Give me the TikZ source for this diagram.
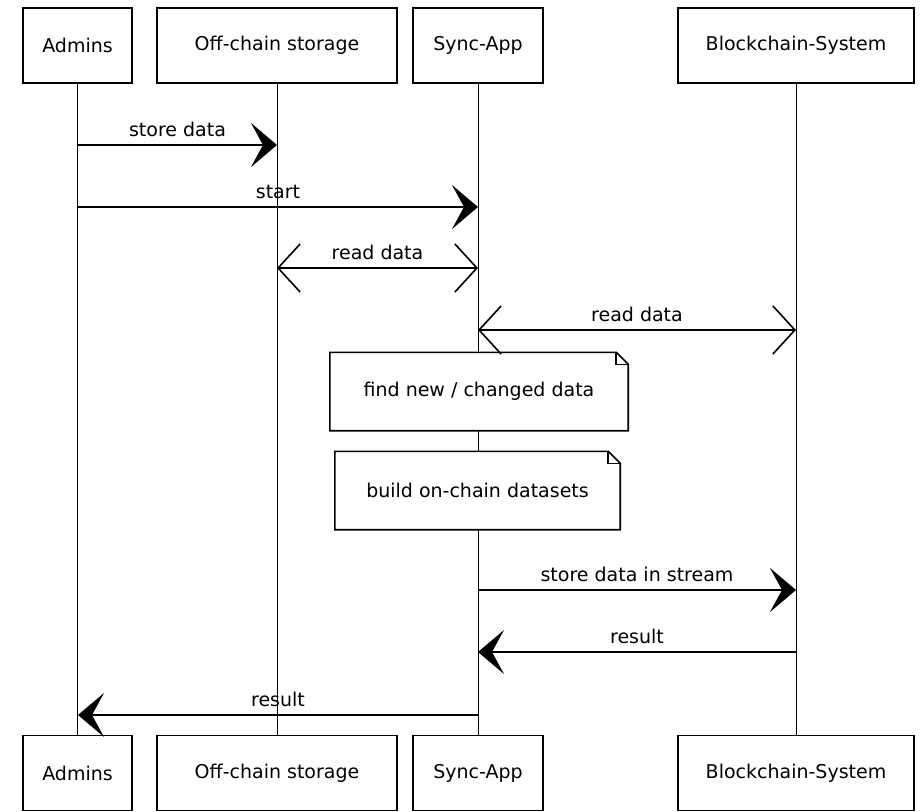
\documentclass[tikz,border=0pt]{standalone}
\usepackage{fontspec}
\setmainfont{DejaVu Sans}
\usetikzlibrary{arrows.meta}
\newcommand{\lblfont}{\fontsize{19}{22}\selectfont}
\tikzstyle{none}=[inner sep=0pt]
\tikzstyle{actor}=[rectangle,draw=black,fill=white,line width=1.6,minimum height=75,font=\lblfont]
\tikzstyle{lifeline}=[-,line width=1.0]
\tikzstyle{msg}=[-{Stealth[length=26pt,width=44pt,inset=12pt]},line width=1.6]
\tikzstyle{readmsg}=[{Straight Barb[length=22pt,width=48pt]}-{Straight Barb[length=22pt,width=48pt]},line width=1.6]
\tikzstyle{lbl}=[above,inner sep=7,font=\lblfont]
\tikzstyle{note}=[rectangle,fill=white,minimum height=78,font=\lblfont]
\tikzstyle{outline}=[-,line width=1.6]
\pgfdeclarelayer{edgelayer}
\pgfdeclarelayer{nodelayer}
\pgfsetlayers{edgelayer,nodelayer,main}
\begin{document}
\begin{tikzpicture}[x=1pt,y=-1pt]
	\useasboundingbox (0,0) rectangle (920,811);
	\begin{pgfonlayer}{nodelayer}
		\node [style=actor, minimum width=109] (adminsT) at (77.5, 45.5) {Admins};
		\node [style=actor, minimum width=240] (storageT) at (277, 45.5) {Off-chain storage};
		\node [style=actor, minimum width=130] (syncT) at (478, 45.5) {Sync-App};
		\node [style=actor, minimum width=236] (chainT) at (796, 45.5) {Blockchain-System};
		\node [style=actor, minimum width=109] (adminsB) at (77.5, 773) {Admins};
		\node [style=actor, minimum width=240] (storageB) at (277, 773) {Off-chain storage};
		\node [style=actor, minimum width=130] (syncB) at (478, 773) {Sync-App};
		\node [style=actor, minimum width=236] (chainB) at (796, 773) {Blockchain-System};
		\node [style=note, minimum width=298] (find) at (479, 391.5) {find new / changed data};
		\node [style=note, minimum width=285] (build) at (477.5, 490.5) {build on-chain datasets};
		\draw [style=outline] (find.north west) -- ([xshift=-12]find.north east) -- ([yshift=-12]find.north east) -- (find.south east) -- (find.south west) -- cycle;
		\draw [style=outline] ([xshift=-12]find.north east) -- ([xshift=-12,yshift=-12]find.north east) -- ([yshift=-12]find.north east);
		\draw [style=outline] (build.north west) -- ([xshift=-12]build.north east) -- ([yshift=-12]build.north east) -- (build.south east) -- (build.south west) -- cycle;
		\draw [style=outline] ([xshift=-12]build.north east) -- ([xshift=-12,yshift=-12]build.north east) -- ([yshift=-12]build.north east);
		\coordinate (a1) at (78, 145);
		\coordinate (o1) at (277, 145);
		\coordinate (a2) at (78, 207);
		\coordinate (s2) at (478, 207);
		\coordinate (o3) at (277, 268);
		\coordinate (s3) at (478, 268);
		\coordinate (s4) at (478, 330);
		\coordinate (b4) at (796, 330);
		\coordinate (s5) at (478, 590);
		\coordinate (b5) at (796, 590);
		\coordinate (b6) at (796, 652);
		\coordinate (s6) at (478, 652);
		\coordinate (s7) at (478, 715);
		\coordinate (a7) at (78, 715);
	\end{pgfonlayer}
	\begin{pgfonlayer}{edgelayer}
		\draw [style=lifeline] (adminsT) -- (adminsB);
		\draw [style=lifeline] (storageT) -- (storageB);
		\draw [style=lifeline] (syncT) -- (syncB);
		\draw [style=lifeline] (chainT) -- (chainB);
	\end{pgfonlayer}
	\draw [style=msg] (a1) -- node [style=lbl] (l1) {store data} (o1);
	\draw [style=msg] (a2) -- node [style=lbl] (l2) {start} (s2);
	\draw [style=readmsg] (o3) -- node [style=lbl] (l3) {read data} (s3);
	\draw [style=readmsg] (s4) -- node [style=lbl] (l4) {read data} (b4);
	\draw [style=msg] (s5) -- node [style=lbl] (l5) {store data in stream} (b5);
	\draw [style=msg] (b6) -- node [style=lbl] (l6) {result} (s6);
	\draw [style=msg] (s7) -- node [style=lbl] (l7) {result} (a7);
\end{tikzpicture}
\end{document}
